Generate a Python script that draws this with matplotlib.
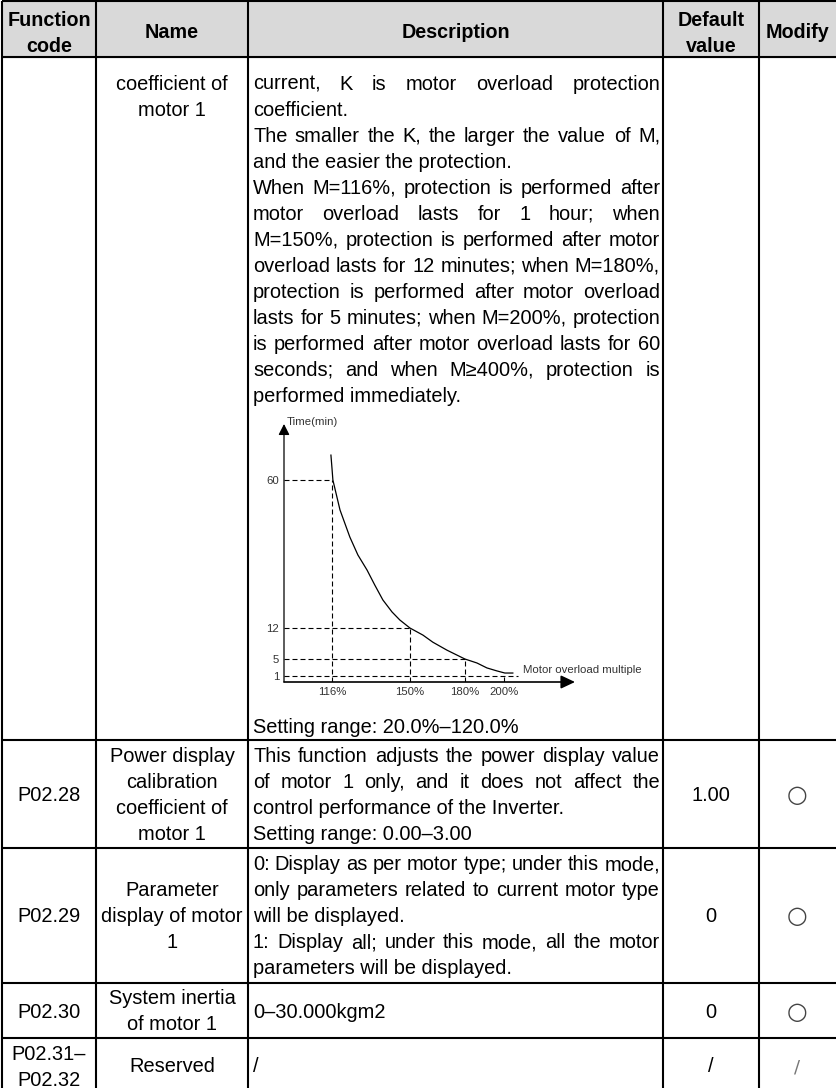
"""
Parameter table P02.27-P02.32 with the motor overload protection curve.

Output: out.png
"""

import matplotlib
import matplotlib.pyplot as plt
import numpy as np

matplotlib.use("Agg")

OUT_PATH = "out.png"

FONT = ["Liberation Sans", "DejaVu Sans"]
BODY_SIZE = 14.4
CHART_SIZE = 8.2
LINE_STEP = 26

# ---- table content -------------------------------------------------------
HEADERS = [["Function", "code"], ["Name"], ["Description"], ["Default", "value"], ["Modify"]]

ROW_CODES = [[], ["P02.28"], ["P02.29"], ["P02.30"], ["P02.31–", "P02.32"]]
ROW_NAMES = [
    ["coefficient of", "motor 1"],
    ["Power display", "calibration", "coefficient of", "motor 1"],
    ["Parameter", "display of motor", "1"],
    ["System inertia", "of motor 1"],
    ["Reserved"],
]
ROW_DEFAULTS = ["", "1.00", "0", "0", "/"]
ROW_MODIFY = ["", "○", "○", "○", "/"]

# (text, justified)
DESC_OVERLOAD = [
    ("current, K is motor overload protection", True),
    ("coefficient.", False),
    ("The smaller the K, the larger the value of M,", True),
    ("and the easier the protection.", False),
    ("When M=116%, protection is performed after", True),
    ("motor overload lasts for 1 hour; when", True),
    ("M=150%, protection is performed after motor", True),
    ("overload lasts for 12 minutes; when M=180%,", True),
    ("protection is performed after motor overload", True),
    ("lasts for 5 minutes; when M=200%, protection", True),
    ("is performed after motor overload lasts for 60", True),
    ("seconds; and when M≥400%, protection is", True),
    ("performed immediately.", False),
]
DESC_OVERLOAD_RANGE = "Setting range: 20.0%–120.0%"
ROW_DESCS = [
    DESC_OVERLOAD,
    [
        ("This function adjusts the power display value", True),
        ("of motor 1 only, and it does not affect the", True),
        ("control performance of the Inverter.", False),
        ("Setting range: 0.00–3.00", False),
    ],
    [
        ("0: Display as per motor type; under this mode,", True),
        ("only parameters related to current motor type", True),
        ("will be displayed.", False),
        ("1: Display all; under this mode, all the motor", True),
        ("parameters will be displayed.", False),
    ],
    [("0–30.000kgm2", False)],
    [("/", False)],
]

# ---- overload curve (schematic, not to scale) ----------------------------
overload_pct = [116, 150, 180, 200]
trip_minutes = [60, 12, 5, 1]
curve_pct = [115.5, 116.0, 116.4, 119.5, 123.8, 127.3, 131.3, 134.7, 138.2, 142.2,
             145.6, 150.0, 157.1, 162.5, 170.2, 180.0, 186.2, 191.3, 196.4, 200.5, 204.6]
curve_min = [68.1, 63.9, 60.0, 50.3, 41.5, 35.7, 30.8, 25.9, 21.1, 17.2,
             14.6, 12.0, 10.4, 8.8, 7.0, 5.0, 4.06, 2.9, 2.2, 1.7, 1.7]

# breakpoints of the drawing's uneven axes
X_BREAKS = [93, 116, 150, 180, 200, 240]
X_DRAWN = [0, 48, 126, 181, 220, 298]
Y_BREAKS = [0, 1, 5, 12, 60, 80]
Y_DRAWN = [0, 6, 23, 54, 202, 263.6]

# ---- geometry (pixels) ---------------------------------------------------
W, H = 836, 1088
COL_EDGES = [2, 96, 248, 663, 759, 836]
ROW_EDGES = [57, 740, 848, 983, 1038, 1093]
DESC_LEFT, DESC_RIGHT = 253, 660


def put_text(ax, x, y, s, ha="center", **kw):
    kw.setdefault("fontsize", BODY_SIZE)
    kw.setdefault("family", FONT)
    return ax.text(x, y, s, ha=ha, va="baseline", **kw)


def put_justified(ax, renderer, y, line, justify):
    if not justify:
        put_text(ax, DESC_LEFT, y, line, ha="left")
        return
    words = line.split(" ")
    texts = [put_text(ax, 0, y, w, ha="left") for w in words]
    widths = [t.get_window_extent(renderer).width for t in texts]
    gap = (DESC_RIGHT - DESC_LEFT - sum(widths)) / (len(words) - 1)
    x = DESC_LEFT
    for t, w in zip(texts, widths):
        t.set_x(x)
        x += w + gap


def block_baselines(top, bottom, n):
    mid = (top + bottom) / 2
    return [mid - (n - 1) / 2 * LINE_STEP + i * LINE_STEP + 7 for i in range(n)]


def draw_chart(fig):
    x0, x1 = 284, 575
    y0, y1 = 682, 424
    cax = fig.add_axes([x0 / W, 1 - y0 / H, (x1 - x0) / W, (y0 - y1) / H])
    cax.set_xscale("function", functions=(lambda v: np.interp(v, X_BREAKS, X_DRAWN),
                                          lambda p: np.interp(p, X_DRAWN, X_BREAKS)))
    cax.set_yscale("function", functions=(lambda v: np.interp(v, Y_BREAKS, Y_DRAWN),
                                          lambda p: np.interp(p, Y_DRAWN, Y_BREAKS)))
    xmin, xmax = 93, 236.5
    ymin, ymax = 0, 78.2
    cax.set_xlim(xmin, xmax)
    cax.set_ylim(ymin, ymax)
    cax.patch.set_alpha(0)
    for s in cax.spines.values():
        s.set_visible(False)

    dash = (0, (4.5, 2.7))
    for p, m in zip(overload_pct, trip_minutes):
        cax.plot([p, p], [0, m], color="black", lw=0.8, linestyle=dash)
    h_ends = [116, 150, 180, 207]
    for m, e in zip(trip_minutes, h_ends):
        cax.plot([xmin, e], [m, m], color="black", lw=0.8, linestyle=dash)

    cax.plot(curve_pct, curve_min, color="black", lw=0.9, solid_joinstyle="round")

    cax.annotate("", xy=(xmax, 0), xytext=(xmin, 0), annotation_clip=False,
                 arrowprops=dict(arrowstyle="-|>,head_length=0.85,head_width=0.4",
                                 color="black", lw=1.2, shrinkA=0, shrinkB=0))
    cax.annotate("", xy=(xmin, ymax), xytext=(xmin, 0), annotation_clip=False,
                 arrowprops=dict(arrowstyle="-|>,head_length=0.65,head_width=0.33",
                                 color="black", lw=0.9, shrinkA=0, shrinkB=0))

    cax.set_xticks(overload_pct, labels=[f"{p}%" for p in overload_pct])
    cax.set_yticks(trip_minutes, labels=[str(m) for m in trip_minutes])
    cax.minorticks_off()
    cax.tick_params(length=0, labelsize=CHART_SIZE, labelcolor="#333333", pad=3.6)
    for lab in cax.get_xticklabels() + cax.get_yticklabels():
        lab.set_family(FONT)

    cax.text(3 / (x1 - x0), 1.008, "Time(min)", transform=cax.transAxes,
             fontsize=CHART_SIZE, family=FONT, color="#333333", ha="left", va="center")
    cax.text((523 - x0) / (x1 - x0), (y0 - 670) / (y0 - y1), "Motor overload multiple",
             transform=cax.transAxes, fontsize=CHART_SIZE, family=FONT,
             color="#333333", ha="left", va="center")


def main():
    fig = plt.figure(figsize=(W / 100, H / 100), dpi=100)
    ax = fig.add_axes([0, 0, 1, 1])
    ax.set_xlim(0, W)
    ax.set_ylim(H, 0)
    ax.axis("off")
    renderer = fig.canvas.get_renderer()

    # header
    ax.add_patch(plt.Rectangle((COL_EDGES[0], 1), COL_EDGES[-1] - COL_EDGES[0], 56,
                               color="#d9d9d9", zorder=0))
    centers = [(a + b) / 2 for a, b in zip(COL_EDGES[:-1], COL_EDGES[1:])]
    for cx, lines in zip(centers, HEADERS):
        for y, s in zip(block_baselines(1, 62, len(lines)), lines):
            put_text(ax, cx, y, s, fontweight="bold", fontsize=14.2)

    # body rows
    for i in range(len(ROW_NAMES)):
        top, bottom = ROW_EDGES[i], ROW_EDGES[i + 1]
        if i == 0:
            name_y = [90 + k * LINE_STEP for k in range(len(ROW_NAMES[0]))]
            desc_y = [90 + k * LINE_STEP for k in range(len(ROW_DESCS[0]))]
            put_text(ax, DESC_LEFT, 733, DESC_OVERLOAD_RANGE, ha="left")
        else:
            name_y = block_baselines(top, bottom, len(ROW_NAMES[i]))
            desc_y = block_baselines(top, bottom, len(ROW_DESCS[i]))
        for y, s in zip(block_baselines(top, bottom, len(ROW_CODES[i])), ROW_CODES[i]):
            put_text(ax, centers[0], y, s)
        for y, s in zip(name_y, ROW_NAMES[i]):
            put_text(ax, centers[1], y, s)
        for y, (s, just) in zip(desc_y, ROW_DESCS[i]):
            put_justified(ax, renderer, y, s, just)
        mid = (top + bottom) / 2
        if ROW_DEFAULTS[i]:
            put_text(ax, centers[3], mid + 7, ROW_DEFAULTS[i])
        if ROW_MODIFY[i] == "○":
            ax.text(centers[4], mid + 1, "○", ha="center", va="center",
                    fontsize=17, family=["DejaVu Sans"], color="#444444")
        elif ROW_MODIFY[i]:
            put_text(ax, centers[4], mid + 7, ROW_MODIFY[i], family=["DejaVu Sans"],
                     fontsize=13, color="#777777")

    # grid lines
    for y in [1] + ROW_EDGES[:-1]:
        ax.plot([COL_EDGES[0], COL_EDGES[-1]], [y, y], color="black", lw=1.5,
                solid_capstyle="butt")
    for x in COL_EDGES[:-1]:
        ax.plot([x, x], [1, H], color="black", lw=1.5, solid_capstyle="butt")

    draw_chart(fig)

    fig.savefig(OUT_PATH, dpi=100)
    plt.close(fig)


if __name__ == "__main__":
    main()
